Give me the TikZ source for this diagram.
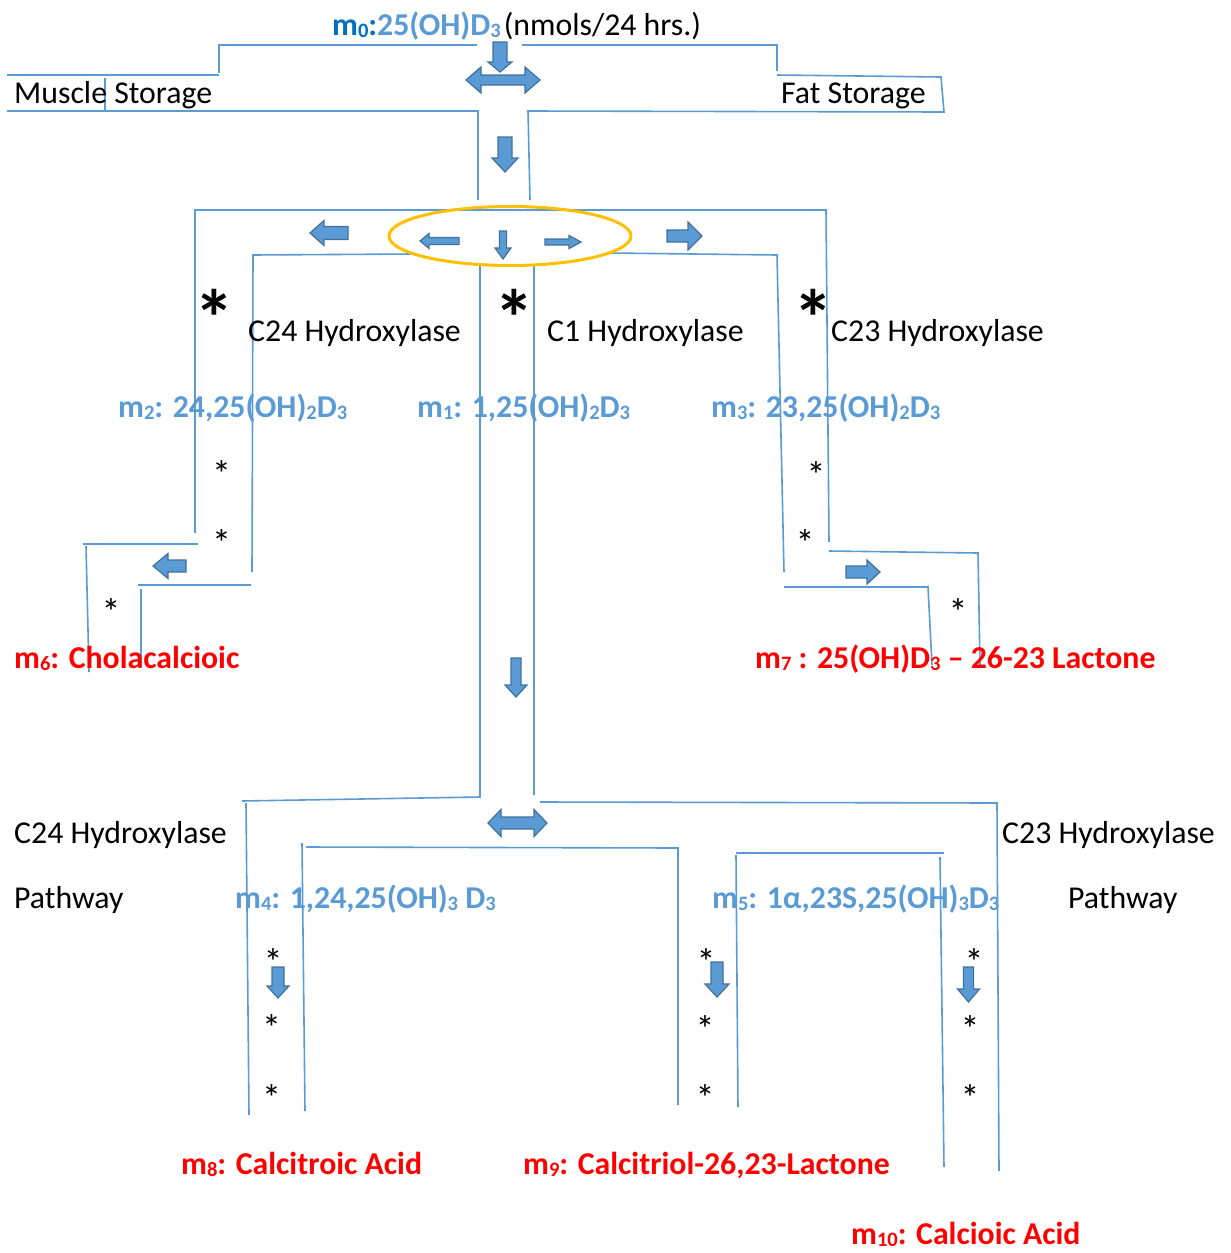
\documentclass[tikz,border=0pt]{standalone}
\usepackage{fontspec}
\setmainfont{Carlito}
\usetikzlibrary{shapes.geometric}
\definecolor{lblue}{HTML}{5B9BD5}
\definecolor{dblue}{HTML}{0070C0}
\definecolor{aedge}{HTML}{41719C}
\definecolor{ored}{HTML}{FF0000}
\definecolor{oyel}{HTML}{FFC000}
\newcommand\mysub[1]{\raisebox{-0.08em}{\fontsize{20.5}{20.5}\selectfont #1}}
\tikzset{
  wall/.style={draw=lblue, line width=1.6pt},
  lbl/.style={anchor=base west, inner sep=0pt, font=\fontsize{31.8}{38}\selectfont},
  blbl/.style={lbl, text=lblue, font=\fontsize{31.8}{38}\selectfont\bfseries},
  rlbl/.style={lbl, text=ored, font=\fontsize{31.8}{38}\selectfont\bfseries},
  smstar/.style={anchor=base, inner sep=0pt, font=\fontsize{38}{40}\selectfont},
  bigstar/.style={anchor=base, inner sep=0pt, font=\fontsize{80}{80}\selectfont\bfseries},
  arrowpath/.style={fill=lblue, draw=aedge, line width=1.2pt, line join=miter},
  pics/barrow/.style n args={4}{code={
    \path[arrowpath] (-#1/2,-#2/2) -- (#1/2-#4,-#2/2) -- (#1/2-#4,-#3/2) -- (#1/2,0)
      -- (#1/2-#4,#3/2) -- (#1/2-#4,#2/2) -- (-#1/2,#2/2) -- cycle;}},
  pics/dbarrow/.style n args={4}{code={
    \path[arrowpath] (-#1/2,0) -- (-#1/2+#4,-#3/2) -- (-#1/2+#4,-#2/2) -- (#1/2-#4,-#2/2)
      -- (#1/2-#4,-#3/2) -- (#1/2,0) -- (#1/2-#4,#3/2) -- (#1/2-#4,#2/2)
      -- (-#1/2+#4,#2/2) -- (-#1/2+#4,#3/2) -- cycle;}},
}
\begin{document}
\begin{tikzpicture}[x=1pt, y=-1pt]
\useasboundingbox[fill=white] (0,0) rectangle (1231,1253);
% ---- top : storage ----
\draw[wall] (219,73) -- (219,45) -- (477,45);
\draw[wall] (522,45) -- (777,45) -- (777,71);
\draw[wall] (7,75) -- (219,75);
\draw[wall] (105,78) -- (105,111);
\draw[wall] (7,111) -- (478,111) -- (478,200);
\draw[wall] (777,75) -- (941,77) -- (944,112) -- (528,111) -- (530,200);
% ---- second level ----
\draw[wall] (195,533) -- (195,210) -- (826,210) -- (829,542);
\draw[wall] (83,544) -- (198,544);
\draw[wall] (86,546) -- (89,672);
\draw[wall] (413,254) -- (253,255) -- (252,572);
\draw[wall] (138,585) -- (251,585);
\draw[wall] (141,589) -- (141,667);
\draw[wall] (610,253) -- (777,255) -- (784,572);
\draw[wall] (784,587) -- (928,587) -- (932,665);
\draw[wall] (829,551) -- (978,553) -- (980,665);
% central channel
\draw[wall] (480,266) -- (480,797) -- (242,801);
\draw[wall] (246,803) -- (249,1115);
\draw[wall] (534,266) -- (534,795);
\draw[wall] (540,802) -- (997,803) -- (999,1171);
\draw[wall] (306,847) -- (678,848) -- (678,1105);
\draw[wall] (302,843) -- (305,1111);
\draw[wall] (736,853) -- (944,853);
\draw[wall] (736,855) -- (738,1107);
\draw[wall] (940,857) -- (944,1167);
% ellipse
\node[ellipse, draw=oyel, line width=3pt, minimum width=242pt, minimum height=59pt, inner sep=0pt] (ell) at (510,236) {};
% block arrows
\pic (a1) [rotate=-90] at (500,57) {barrow={30}{14}{24}{10}};
\pic (a2) at (503,80) {dbarrow={74}{10}{26}{15}};
\pic (a3) [rotate=-90] at (505,154.5) {barrow={35}{14}{26}{14}};
\pic (e1) [rotate=180] at (439.5,241) {barrow={39}{7}{15}{9}};
\pic (e2) [rotate=-90] at (503,245) {barrow={28}{7}{16}{11}};
\pic (e3) at (563,242) {barrow={36}{6}{13}{12}};
\pic (b1) [rotate=180] at (329,233) {barrow={38}{13}{25}{14}};
\pic (b2) at (684.5,236) {barrow={35}{12}{28}{14}};
\pic (b3) [rotate=180] at (169.5,566) {barrow={33}{12}{25}{15}};
\pic (b4) at (863,572) {barrow={34}{12}{24}{13}};
\pic (b5) [rotate=-90] at (516,677.5) {barrow={39}{10}{22}{12}};
\pic (d2) at (517.5,823) {dbarrow={59}{12}{27}{13}};
\pic (c1a) [rotate=-90] at (278,982.5) {barrow={31}{12}{22}{12}};
\pic (c2a) [rotate=-90] at (717,979.5) {barrow={35}{12}{24}{13}};
\pic (c3a) [rotate=-90] at (968.5,984.5) {barrow={35}{10}{22}{13}};
% labels
\node[lbl] (tt) at (332,35) {\textcolor{dblue}{\bfseries m\mysub{0}:}\textcolor{lblue}{\bfseries 25(OH)D\mysub{3}}\hspace{3pt}(nmols/24 hrs.)};
\node[lbl] (ms) at (14,103) {Muscle Storage};
\node[lbl] (fs) at (781,103) {Fat Storage};
\node[lbl] (c24) at (248,341) {C24 Hydroxylase};
\node[lbl] (c1) at (547,341) {C1 Hydroxylase};
\node[lbl] (c23) at (831,341) {C23 Hydroxylase};
\node[blbl] (m2) at (118,417) {m\mysub{2}: 24,25(OH)\mysub{2}D\mysub{3}};
\node[blbl] (m1) at (417,417) {m\mysub{1}: 1,25(OH)\mysub{2}D\mysub{3}};
\node[blbl] (m3) at (711,417) {m\mysub{3}: 23,25(OH)\mysub{2}D\mysub{3}};
\node[rlbl] (m6) at (14,668) {m\mysub{6}: Cholacalcioic};
\node[rlbl] (m7) at (755,668) {m\mysub{7} : 25(OH)D\mysub{3} – 26-23 Lactone};
\node[lbl] (c24p) at (14,843) {C24 Hydroxylase};
\node[lbl] (pw1) at (14,908) {Pathway};
\node[lbl] (c23p) at (1002,843) {C23 Hydroxylase};
\node[lbl] (pw2) at (1068,908) {Pathway};
\node[blbl] (m4) at (235,908) {m\mysub{4}: 1,24,25(OH)\mysub{3} D\mysub{3}};
\node[blbl] (m5) at (712,908) {m\mysub{5}: 1α,23S,25(OH)\mysub{3}D\mysub{3}};
\node[rlbl] (m8) at (181,1174) {m\mysub{8}: Calcitroic Acid};
\node[rlbl] (m9) at (523,1174) {m\mysub{9}: Calcitriol-26,23-Lactone};
\node[rlbl] (m10) at (851,1244) {m\mysub{10}: Calcioic Acid};
% stars
\node[bigstar] (s1) at (214,346) {*};
\node[bigstar] (s2) at (514,346) {*};
\node[bigstar] (s3) at (813,346) {*};
\node[smstar] (s4) at (221.5,487.5) {*};
\node[smstar] (s5) at (221.5,556) {*};
\node[smstar] (s6) at (111,625) {*};
\node[smstar] (s7) at (816,488) {*};
\node[smstar] (s8) at (805,556) {*};
\node[smstar] (s9) at (958,625) {*};
\node[smstar] (s10) at (273,975) {*};
\node[smstar] (s11) at (271.5,1041.5) {*};
\node[smstar] (s12) at (271.5,1111.5) {*};
\node[smstar] (s13) at (706,975) {*};
\node[smstar] (s14) at (705,1042) {*};
\node[smstar] (s15) at (705,1111) {*};
\node[smstar] (s16) at (974,975) {*};
\node[smstar] (s17) at (970,1042) {*};
\node[smstar] (s18) at (970,1111) {*};
\end{tikzpicture}
\end{document}
